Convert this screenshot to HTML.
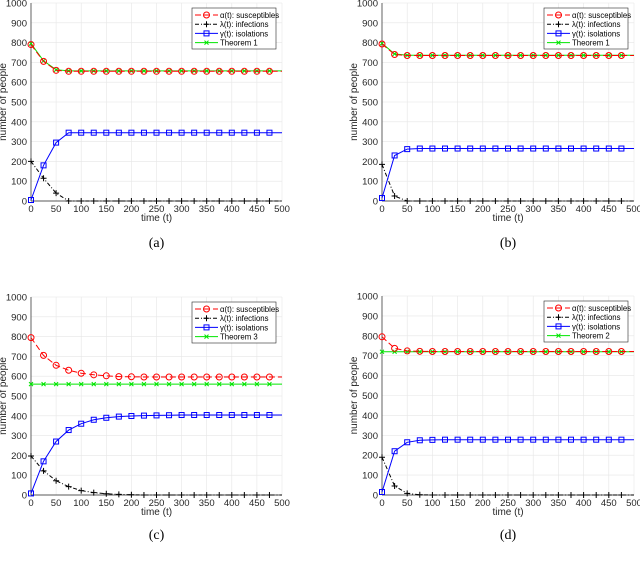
<!DOCTYPE html>
<html><head><meta charset="utf-8"><style>
body{margin:0;background:#fff;width:640px;height:566px;overflow:hidden}
svg{display:block;font-family:"Liberation Sans",sans-serif}
</style></head><body>
<svg id="c" width="640" height="566"></svg>
<script>
const tVals=[0,25,50,75,100,125,150,175,200,225,250,275,300,325,350,375,400,425,450,475,500];
const xTicks=[0,50,100,150,200,250,300,350,400,450,500];
const yTicks=[0,100,200,300,400,500,600,700,800,900,1000];
const aAlpha=[790,705,660,655,655,655,655,655,655,655,655,655,655,655,655,655,655,655,655,655,655];
const aTheo=[795,708,663,657,657,657,657,657,657,657,657,657,657,657,657,657,657,657,657,657,657];
const aLambda=[200,115,40,0,0,0,0,0,0,0,0,0,0,0,0,0,0,0,0,0,0];
const aGamma=[5,180,295,345,345,345,345,345,345,345,345,345,345,345,345,345,345,345,345,345,345];
const bAlpha=[793,740,735,735,735,735,735,735,735,735,735,735,735,735,735,735,735,735,735,735,735];
const bTheo=[796,743,736,736,736,736,736,736,736,736,736,736,736,736,736,736,736,736,736,736,736];
const bLambda=[185,25,0,0,0,0,0,0,0,0,0,0,0,0,0,0,0,0,0,0,0];
const bGamma=[15,230,262,265,265,265,265,265,265,265,265,265,265,265,265,265,265,265,265,265,265];
const cAlpha=[795,705,655,630,615,607,602,598,597,596,596,596,596,596,596,596,596,596,596,596,596];
const cTheo=[560,560,560,560,560,560,560,560,560,560,560,560,560,560,560,560,560,560,560,560,560];
const cLambda=[197,122,72,42,22,12,6,3,1,0,0,0,0,0,0,0,0,0,0,0,0];
const cGamma=[8,170,270,328,360,380,390,396,399,401,402,403,404,404,404,404,404,404,404,404,404];
const dAlpha=[795,737,724,722,721,721,721,721,721,721,721,721,721,721,721,721,721,721,721,721,721];
const dTheo=[720,720,720,720,720,720,720,720,720,720,720,720,720,720,720,720,720,720,720,720,720];
const dLambda=[190,45,8,1,0,0,0,0,0,0,0,0,0,0,0,0,0,0,0,0,0];
const dGamma=[15,220,265,275,277,278,278,278,278,278,278,278,278,278,278,278,278,278,278,278,278];

const NS='http://www.w3.org/2000/svg';
const svg=document.getElementById('c');
function mk(tag,attrs,parent,text){const e=document.createElementNS(NS,tag);for(const k in attrs)e.setAttribute(k,attrs[k]);if(text!==undefined)e.textContent=text;(parent||svg).appendChild(e);return e;}

function panel(id,x0,x1,y0,y1,alpha,theo,lambda,gamma,theoName,cap,capY,xlY,ylX){
  const g=mk('g',{});
  
  
  const X=v=>x0+(x1-x0)*v/500, Y=v=>y0+(y1-y0)*v/1000;
  mk('rect',{x:x0,y:y1,width:x1-x0,height:y0-y1,fill:'#fff',stroke:'none'},g);
  xTicks.forEach(t=>{mk('line',{x1:X(t),x2:X(t),y1:y0,y2:y1,stroke:'#e6e6e6','stroke-width':0.6},g);
    const tl=mk('text',{x:X(t),y:y0+11,'font-size':9.5,fill:'#262626','text-anchor':'middle'},g,String(t));
    });
  yTicks.forEach(t=>{mk('line',{x1:x0,x2:x1,y1:Y(t),y2:Y(t),stroke:'#e6e6e6','stroke-width':0.6},g);
    const tl=mk('text',{x:x0-4,y:Y(t)+3.5,'font-size':9.5,fill:'#262626','text-anchor':'end'},g,String(t));
    });
  mk('line',{x1:x0,x2:x1,y1:y0,y2:y0,stroke:'#262626','stroke-width':0.7},g);
  mk('line',{x1:x0,x2:x0,y1:y0,y2:y1,stroke:'#262626','stroke-width':0.7},g);
  const xl=mk('text',{x:(x0+x1)/2,y:xlY,'font-size':10,fill:'#262626','text-anchor':'middle'},g,'time (t)');
  
  const yc=(y0+y1)/2;
  const yl=mk('text',{x:ylX,y:yc,'font-size':10,fill:'#262626','text-anchor':'middle',transform:`rotate(-90 ${ylX} ${yc})`},g,'number of people');
  
  const ct=mk('text',{x:(x0+x1)/2,y:capY,'font-size':14,fill:'#000','text-anchor':'middle','font-family':'Liberation Serif, serif'},g,cap);
  
  const series=[
    {d:theo,c:'#00e600',dash:'',m:'x',n:'theorem'},
    {d:alpha,c:'#ff0000',dash:'6,3',m:'o',n:'susceptibles'},
    {d:lambda,c:'#000',dash:'4,2,1,2',m:'+',n:'infections'},
    {d:gamma,c:'#0000ff',dash:'',m:'s',n:'isolations'}];
  function marker(m,cx,cy,c,par){
    if(m==='o')mk('circle',{cx,cy,r:3,fill:'none',stroke:c,'stroke-width':1},par);
    else if(m==='s')mk('rect',{x:cx-2.5,y:cy-2.5,width:5,height:5,fill:'none',stroke:c,'stroke-width':1},par);
    else if(m==='+')mk('path',{d:`M${cx-3},${cy}H${cx+3}M${cx},${cy-3}V${cy+3}`,stroke:c,'stroke-width':1},par);
    else mk('path',{d:`M${cx-2},${cy-2}L${cx+2},${cy+2}M${cx-2},${cy+2}L${cx+2},${cy-2}`,stroke:c,'stroke-width':1},par);
  }
  series.forEach(s=>{
    const sg=mk('g',{},g);
    
    
    const pts=s.d.map((v,i)=>X(tVals[i]).toFixed(1)+','+Y(Math.max(v,0)).toFixed(1)).join(' ');
    mk('polyline',{points:pts,fill:'none',stroke:s.c,'stroke-width':1,'stroke-dasharray':s.dash},sg);
    s.d.forEach((v,i)=>{if(i<20)marker(s.m,X(tVals[i]),Y(v),s.c,sg);});
  });
  // legend
  const lx=x1-90, ly=y1+5;
  const lg=mk('g',{},g);
  
  
  mk('rect',{x:lx,y:ly,width:84,height:41,fill:'#fff',stroke:'#262626','stroke-width':0.6},lg);
  const ent=[[series[1],'α(t): susceptibles'],[series[2],'λ(t): infections'],[series[3],'γ(t): isolations'],[series[0],theoName]];
  ent.forEach((e,i)=>{
    const yy=ly+7+i*9.2;
    const eg=mk('g',{},lg);
    
    
    mk('line',{x1:lx+3,x2:lx+26,y1:yy,y2:yy,stroke:e[0].c,'stroke-width':1,'stroke-dasharray':e[0].dash},eg);
    marker(e[0].m,lx+14.5,yy,e[0].c,eg);
    mk('text',{x:lx+28,y:yy+3,'font-size':7.8,fill:'#000'},eg,e[1]);
  });
}
panel('a',31,282,201,3,aAlpha,aTheo,aLambda,aGamma,'Theorem 1','(a)',247,221,6);
panel('b',382,634,201,3,bAlpha,bTheo,bLambda,bGamma,'Theorem 1','(b)',247,221,357);
panel('c',31,282,495,297,cAlpha,cTheo,cLambda,cGamma,'Theorem 3','(c)',539,515,6);
panel('d',382,634,495,296,dAlpha,dTheo,dLambda,dGamma,'Theorem 2','(d)',539,515,357);
</script>
</body></html>
